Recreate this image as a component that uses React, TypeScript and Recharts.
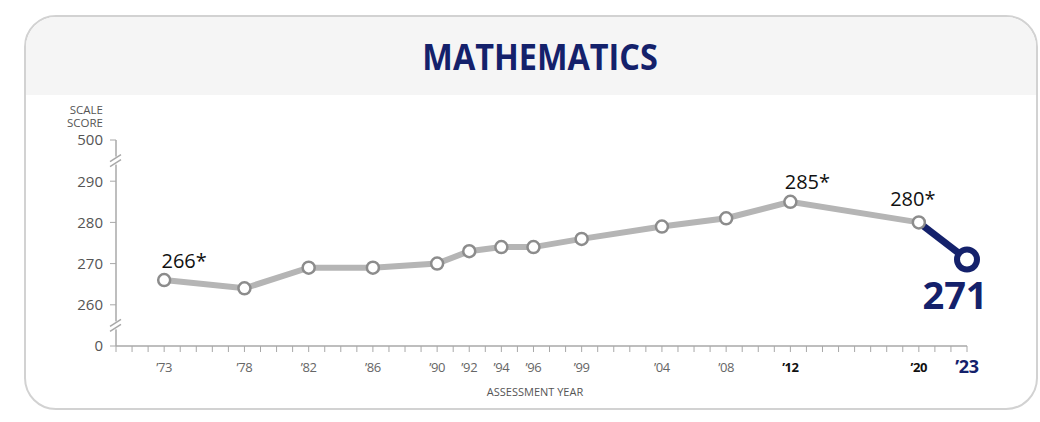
import React from "react";
import { LineChart, Line, XAxis, YAxis, ReferenceDot, LabelList } from "recharts";

// NAEP long-term trend, mathematics, age 13
const years = [1973, 1978, 1982, 1986, 1990, 1992, 1994, 1996, 1999, 2004, 2008, 2012, 2020, 2023];
const trendScores = [266, 264, 269, 269, 270, 273, 274, 274, 276, 279, 281, 285, 280, null];
const recentScores = [null, null, null, null, null, null, null, null, null, null, null, null, 280, 271];
const pointLabels = ["266*", "", "", "", "", "", "", "", "", "", "", "285*", "280*", "271"];
const yearLabels = ["’73", "’78", "’82", "’86", "’90", "’92", "’94", "’96", "’99", "’04", "’08", "’12", "’20", "’23"];

// broken axis: bottom tick stands for 0, top tick for 500
const yTicks = [250, 260, 270, 280, 290, 300];
const yTickLabels = ["0", "260", "270", "280", "290", "500"];
const axisBreaks = [255, 295];
const allYears = Array.from({ length: 2023 - 1970 + 1 }, (_, i) => 1970 + i);

const rows = years.map((year, i) => ({
  year,
  trend: trendScores[i],
  recent: recentScores[i],
  label: pointLabels[i],
}));

const NAVY = "#14216b";
const GRAY_LINE = "#b5b5b5";
const GRAY_DOT = "#8c8c8c";
const AXIS = "#a8a8a8";

const labelPos: Record<number, { dx: number; dy: number; size: number; bold?: boolean; fill: string }> = {
  1973: { dx: 20, dy: -12, size: 20, fill: "#111" },
  2012: { dx: 17, dy: -13, size: 20, fill: "#111" },
  2020: { dx: -6, dy: -16, size: 20, fill: "#111" },
  2023: { dx: -12, dy: 50, size: 38, bold: true, fill: NAVY },
};

const makeLabel = (series: "trend" | "recent") => (props: any) => {
  const { x, y, index } = props;
  const row = rows[index];
  if (!row || !row.label || x == null || y == null) return null;
  if (series === "trend" && row.year === 2023) return null;
  if (series === "recent" && row.year !== 2023) return null;
  const p = labelPos[row.year];
  return (
    <text
      x={x + p.dx}
      y={y + p.dy}
      textAnchor="middle"
      fontFamily="Open Sans"
      fontSize={p.size}
      fontWeight={p.bold ? 700 : 400}
      fill={p.fill}
    >
      {row.label}
    </text>
  );
};

const YearTick = (props: any) => {
  const { x, y, payload } = props;
  const i = years.indexOf(payload.value);
  if (i < 0) return null;
  const yr = years[i];
  const big = yr === 2023;
  const bold = yr === 2012 || yr === 2020 || big;
  return (
    <text
      x={x}
      y={y + (big ? 13 : 12)}
      textAnchor="middle"
      fontFamily="Open Sans"
      fontSize={big ? 18 : 13}
      fontWeight={bold ? 700 : 400}
      letterSpacing={-0.4}
      fill={big ? NAVY : bold ? "#111" : "#666"}
    >
      {yearLabels[i]}
    </text>
  );
};

const BreakMark = (props: any) => {
  const { cx, cy } = props;
  return (
    <g>
      <rect x={cx - 5} y={cy - 4} width={10} height={8} fill="#fff" />
      <line x1={cx - 6} y1={cy + 1} x2={cx + 5} y2={cy - 6} stroke={AXIS} strokeWidth={1.5} />
      <line x1={cx - 6} y1={cy + 6} x2={cx + 5} y2={cy - 1} stroke={AXIS} strokeWidth={1.5} />
    </g>
  );
};

const GrayDot = (props: any) => {
  const { cx, cy, value } = props;
  if (value == null || cx == null) return null;
  return <circle cx={cx} cy={cy} r={6} fill="#fff" stroke={GRAY_DOT} strokeWidth={2.5} />;
};

const NavyDot = (props: any) => {
  const { cx, cy, payload } = props;
  if (!payload || payload.year !== 2023) return null;
  return <circle cx={cx} cy={cy} r={10} fill="#fff" stroke={NAVY} strokeWidth={6} />;
};

export default function App() {
  return (
    <div style={{ position: "absolute", left: 0, top: 0, width: 1040, height: 422, background: "#fff", fontFamily: "Open Sans" }}>
      <div
        style={{
          position: "absolute",
          left: 24,
          top: 15,
          width: 1010,
          height: 391,
          border: "2px solid #d2d2d2",
          borderRadius: 32,
          overflow: "hidden",
          background: "#fff",
        }}
      >
        <div style={{ height: 78, background: "#f5f5f5" }} />
      </div>
      <div
        style={{
          position: "absolute",
          left: 0,
          top: 36,
          width: 1080,
          textAlign: "center",
          fontSize: 36,
          fontWeight: 700,
          color: NAVY,
          transform: "scaleX(0.9)",
          transformOrigin: "541px 0",
          lineHeight: "42px",
        }}
      >
        MATHEMATICS
      </div>
      <div style={{ position: "absolute", right: 1040 - 103, top: 103, fontSize: 11.5, lineHeight: "13px", color: "#555", textAlign: "right" }}>
        SCALE
        <br />
        SCORE
      </div>
      <div style={{ position: "absolute", left: 435, width: 200, top: 384, fontSize: 11, color: "#555", textAlign: "center" }}>
        ASSESSMENT YEAR
      </div>
      <div style={{ position: "absolute", left: 0, top: 0 }}>
        <LineChart width={1040} height={422} data={rows} margin={{ top: 140, right: 73, bottom: 46, left: 56 }}>
          <XAxis
            dataKey="year"
            type="number"
            domain={[1970, 2023]}
            ticks={allYears}
            interval={0}
            tick={<YearTick />}
            tickSize={6}
            tickMargin={8}
            height={30}
            axisLine={{ stroke: AXIS, strokeWidth: 1.5 }}
            tickLine={{ stroke: AXIS, strokeWidth: 1 }}
          />
          <YAxis
            type="number"
            domain={[250, 300]}
            ticks={yTicks}
            interval={0}
            width={60}
            tickSize={6}
            tickMargin={7}
            tickFormatter={(v: number) => yTickLabels[yTicks.indexOf(v)]}
            tick={{ fill: "#555", fontSize: 15, fontFamily: "Open Sans" }}
            axisLine={{ stroke: AXIS, strokeWidth: 1.5 }}
            tickLine={{ stroke: AXIS, strokeWidth: 1 }}
          />
          {axisBreaks.map((b) => (
            <ReferenceDot key={b} x={1970} y={b} ifOverflow="visible" shape={<BreakMark />} />
          ))}
          <Line
            dataKey="recent"
            stroke={NAVY}
            strokeWidth={7}
            dot={<NavyDot />}
            activeDot={false}
            isAnimationActive={false}
          >
            <LabelList dataKey="label" content={makeLabel("recent")} />
          </Line>
          <Line
            dataKey="trend"
            stroke={GRAY_LINE}
            strokeWidth={6}
            dot={<GrayDot />}
            activeDot={false}
            isAnimationActive={false}
          >
            <LabelList dataKey="label" content={makeLabel("trend")} />
          </Line>
        </LineChart>
      </div>
    </div>
  );
}
